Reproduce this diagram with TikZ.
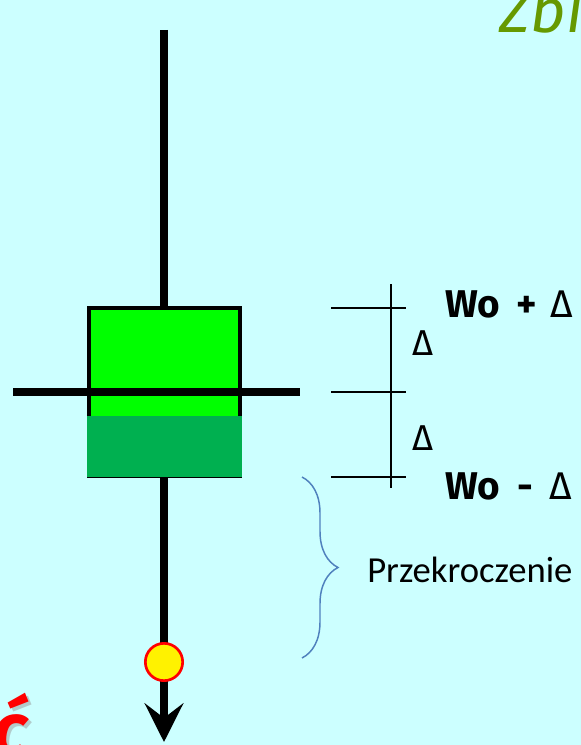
\documentclass[tikz,border=0pt]{standalone}
\usepackage{fontspec}
\setmainfont{Carlito}
\newfontfamily\markfont{Fira Sans}
\usetikzlibrary{arrows.meta,decorations.pathreplacing}
\definecolor{bgcyan}{HTML}{CCFFFF}
\definecolor{lightgreen}{HTML}{00FF00}
\definecolor{darkgreen}{HTML}{00B050}
\definecolor{bracecol}{HTML}{4F81BD}
\definecolor{titlegreen}{HTML}{669900}

\begin{document}
\begin{tikzpicture}[
    x=0.75pt, y=-0.75pt,
    stem/.style={line width=6pt, -{Stealth[length=29pt, width=29pt, inset=11pt]}},
    cross/.style={line width=6pt},
    boxnode/.style={draw, line width=3pt, fill=lightgreen, minimum width=113.25pt, minimum height=126pt, inner sep=0pt},
    ball/.style={circle, draw=red, line width=2pt, fill=yellow, minimum size=28pt, inner sep=0pt},
    tick/.style={line width=1.1pt},
    level/.style={anchor=base west, inner sep=0pt, font=\markfont\bfseries\fontsize{29}{34}\selectfont},
    delta/.style={anchor=base west, inner sep=0pt, font=\markfont\fontsize{27}{32}\selectfont},
    note/.style={anchor=base west, inner sep=0pt, font=\fontsize{27.5}{32}\selectfont},
    bracket/.style={decorate, decoration={brace, amplitude=27pt}, draw=bracecol, line width=1.1pt}
]
\path[use as bounding box, fill=bgcyan] (0,0) rectangle (581,745);

\coordinate (top) at (164,30);
\coordinate (tip) at (164,742);
\draw[stem] (top) -- (tip);

\node[boxnode] (box) at (164.5,392) {};
\fill[darkgreen] (87,416) rectangle (241.5,477);
\draw[cross] (13,392) -- (300,392);
\node[ball] (ball) at (164,662) {};

% tolerance scale
\draw[tick] (331,308) -- (406,308);
\draw[tick] (331,392) -- (406,392);
\draw[tick] (331,477) -- (406,477);
\draw[tick] (391,284) -- (391,488);
\node[delta] (dup) at (412,355) {Δ};
\node[delta] (ddown) at (412,450) {Δ};
\node[level] (upper) at (445,317) {Wo\hspace{12pt}+\hspace{10pt}{\mdseries Δ}};
\node[level] (lower) at (445,499) {Wo\hspace{13pt}-\hspace{12pt}{\mdseries Δ}};

\coordinate (btop) at (302,477);
\coordinate (bbot) at (302,658);
\draw[bracket] (btop) -- (bbot);
\node[note] (excess) at (367,582) {Przekroczenie};

\node[anchor=base west, inner sep=0pt, text=titlegreen, font=\markfont\itshape\fontsize{46}{50}\selectfont] (title) at (499,33) {Zbi};
\node[anchor=base west, inner sep=0pt, text=black!40, opacity=0.5, font=\markfont\bfseries\itshape\fontsize{56}{60}\selectfont] (shadow) at (-5,758) {ć};
\node[anchor=base west, inner sep=0pt, text=red, font=\markfont\bfseries\itshape\fontsize{56}{60}\selectfont] (mark) at (-8,755) {ć};
\end{tikzpicture}
\end{document}
